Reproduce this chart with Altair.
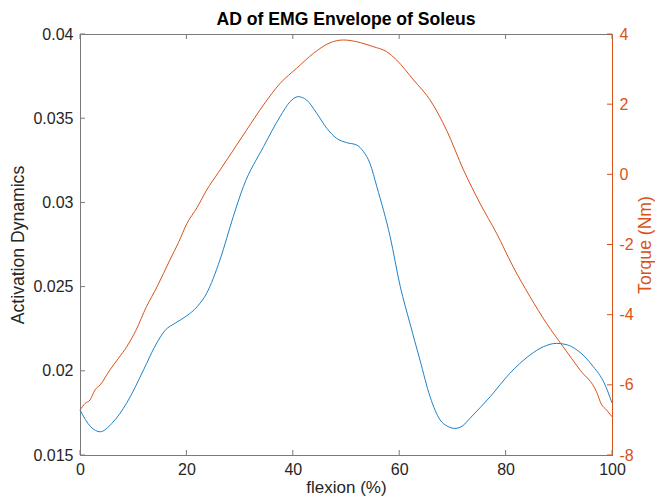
import altair as alt
import pandas as pd

# ---- data ----
ad_x = [0, 2, 3.8, 6, 8.8, 12, 14, 16, 18, 20, 22, 23.8, 26.3, 28.8, 30.7, 34.5,
        37.6, 39.5, 41.0, 42.6, 44.5, 46.4, 48.2, 50.1, 52.0, 53.3, 54.5, 55.8, 58.3,
        60.2, 62.0, 63.9, 65.8, 67.7, 69.0, 70.5, 72.0, 73.3, 77.1, 80.8, 84.6, 87.1,
        89.6, 91.5, 93.4, 96.5, 98.5, 100]
ad_y = [0.01767, 0.01668, 0.01638, 0.01688, 0.0181, 0.02009, 0.0214, 0.0224, 0.02285,
        0.02325, 0.0238, 0.0246, 0.02658, 0.02915, 0.03093, 0.03331, 0.03509, 0.03598,
        0.03628, 0.03608, 0.03529, 0.0344, 0.03381, 0.03355, 0.03341, 0.03301, 0.03232,
        0.03093, 0.02796, 0.0250, 0.02284, 0.02064, 0.01846, 0.01708, 0.01672, 0.01658,
        0.01675, 0.01718, 0.01846, 0.01985, 0.02094, 0.02143, 0.02163, 0.02155, 0.02124,
        0.02024, 0.0193, 0.01809]

tq_x = [0, 0.94, 1.9, 2.8, 3.8, 5.6, 7.2, 8.8, 10.5, 12.5, 14.5, 16.9, 18.5, 20.1, 22,
        23.8, 26, 28.2, 31.3, 34.5, 37.6, 40.7, 43.9, 47.0, 49.5, 52.0, 55.1, 57.6, 59.5,
        62.7, 65.8, 68.9, 72.1, 75.2, 78.3, 81.4, 84.6, 87.7, 90.8, 94.0, 97.1, 98, 99, 100]
tq_y = [-6.72, -6.53, -6.43, -6.15, -6.0, -5.58, -5.25, -4.91, -4.45, -3.77, -3.2, -2.44,
        -1.95, -1.40, -0.95, -0.45, 0.05, 0.55, 1.26, 1.98, 2.59, 3.02, 3.45, 3.75, 3.83,
        3.78, 3.64, 3.50, 3.26, 2.69, 2.12, 1.26, 0.12, -0.83, -1.68, -2.63, -3.49, -4.25,
        -4.91, -5.58, -6.20, -6.55, -6.72, -6.91]

x_ticks = [0, 20, 40, 60, 80, 100]
left_ticks = [0.015, 0.02, 0.025, 0.03, 0.035, 0.04]
right_ticks = [-8, -6, -4, -2, 0, 2, 4]

# ---- styling ----
W, H = 532, 421
BLUE = "#1f82c6"
ORANGE = "#D95319"
AXC = "#7a7a7a"
TXT = "#262626"
FONT = "Liberation Sans"
TL = 5

ad = pd.DataFrame({"x": ad_x, "ad": ad_y})
tq = pd.DataFrame({"x": tq_x, "tq": tq_y})
xt = pd.DataFrame({"x": x_ticks})
lt = pd.DataFrame({"ad": left_ticks})
rt = pd.DataFrame({"tq": right_ticks})

xscale = alt.Scale(domain=[0, 100], nice=False, zero=False)
lscale = alt.Scale(domain=[0.015, 0.04], nice=False, zero=False)
rscale = alt.Scale(domain=[-8, 4], nice=False, zero=False)

xaxis = alt.Axis(values=x_ticks, title="flexion (%)", grid=False, ticks=False,
                 domainColor=AXC, domainWidth=1, labelColor=TXT, labelFontSize=16,
                 labelPadding=6, labelFlush=False, labelExpr="'' + datum.value",
                 titleColor=TXT, titleFontSize=17, titleFontWeight="normal",
                 titlePadding=2)
laxis = alt.Axis(values=left_ticks, title="Activation Dynamics", grid=False, ticks=False,
                 domainColor=AXC, domainWidth=1, labelColor=TXT, labelFontSize=16,
                 labelPadding=7, labelFlush=False, labelExpr="'' + datum.value",
                 titleColor=TXT, titleFontSize=17.6, titleFontWeight="normal",
                 titlePadding=5)
raxis = alt.Axis(orient="right", values=right_ticks, title="Torque (Nm)", grid=False,
                 ticks=False, domainColor=ORANGE, domainWidth=1, labelColor=ORANGE,
                 labelFontSize=16, labelPadding=7, labelFlush=False,
                 labelExpr="'' + datum.value",
                 titleColor=ORANGE, titleFontSize=17.6, titleFontWeight="normal",
                 titleAngle=270, titlePadding=21)

X = alt.X("x:Q", scale=xscale, axis=xaxis)

blue = alt.Chart(ad).mark_line(color=BLUE, strokeWidth=1, interpolate="monotone").encode(
    x=X,
    y=alt.Y("ad:Q", scale=lscale, axis=laxis),
)
lticks = alt.Chart(lt).mark_rule(color=AXC, strokeWidth=1).encode(
    y=alt.Y("ad:Q", scale=lscale, axis=laxis),
    x=alt.value(0), x2=alt.value(TL),
)
bticks = alt.Chart(xt).mark_rule(color=AXC, strokeWidth=1).encode(
    x=X, y=alt.value(H), y2=alt.value(H - TL),
)
tticks = alt.Chart(xt).mark_rule(color=AXC, strokeWidth=1).encode(
    x=X, y=alt.value(0), y2=alt.value(TL),
)
left = alt.layer(blue, lticks, bticks, tticks)

orange = alt.Chart(tq).mark_line(color=ORANGE, strokeWidth=1, interpolate="monotone").encode(
    x=X,
    y=alt.Y("tq:Q", scale=rscale, axis=raxis),
)
rticks = alt.Chart(rt).mark_rule(color=ORANGE, strokeWidth=1).encode(
    y=alt.Y("tq:Q", scale=rscale, axis=raxis),
    x=alt.value(W - TL), x2=alt.value(W),
)
right = alt.layer(orange, rticks)

chart = alt.layer(left, right).resolve_scale(y="independent").properties(
    width=W, height=H,
    title=alt.Title("AD of EMG Envelope of Soleus", fontSize=17.6, fontWeight="bold",
                    color="#000000", anchor="middle", frame="group", offset=-3),
    autosize=alt.AutoSizeParams(type="none"),
    padding={"left": 72, "top": 26, "right": 43, "bottom": 41},
).configure(font=FONT).configure_view(stroke=AXC, strokeWidth=1)

chart.save("out.html", embed_options={"renderer": "svg", "actions": False})
